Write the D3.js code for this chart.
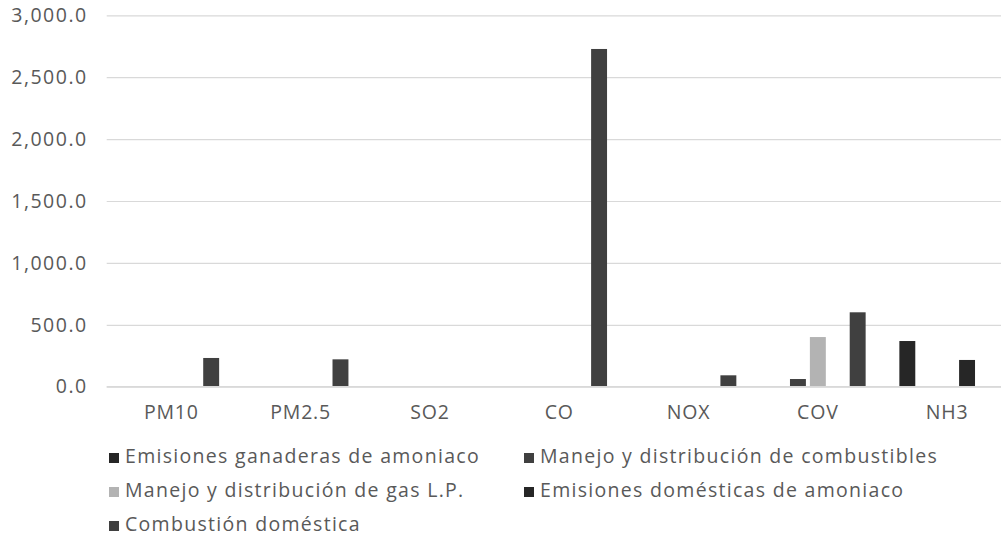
<!DOCTYPE html>
<html lang="es">
<head>
  <meta charset="UTF-8" />
  <title>Emisiones por contaminante</title>
  <script src="https://d3js.org/d3.v7.min.js"></script>
  <style>
    body { margin: 0; background: #fff; }
    svg { display: block; font-family: "Open Sans", sans-serif; }
    .tick text { fill: #595959; }
    .y-axis text { letter-spacing: 1.5px; }
    .x-axis text { letter-spacing: 0.8px; }
    .legend text { letter-spacing: 1.3px; }
  </style>
</head>
<body>
  <svg id="chart" width="1001" height="542"></svg>
  <script>
    // Datos
    const categories = ["PM10", "PM2.5", "SO2", "CO", "NOX", "COV", "NH3"];
    const seriesNames = [
      "Emisiones ganaderas de amoniaco",
      "Manejo y distribución de combustibles",
      "Manejo y distribución de gas L.P.",
      "Emisiones domésticas de amoniaco",
      "Combustión doméstica"
    ];
    const ganaderas    = [0, 0, 0, 0, 0, 0, 369];
    const combustibles = [0, 0, 0, 0, 0, 62, 0];
    const gasLP        = [0, 0, 0, 0, 0, 401, 0];
    const domesticas   = [0, 0, 0, 0, 0, 0, 216];
    const combustion   = [232, 221, 4, 2728, 92, 601, 0];
    const seriesValues = [ganaderas, combustibles, gasLP, domesticas, combustion];
    const colors = ["#262626", "#404040", "#b3b3b3", "#262626", "#404040"];
    const yTicks = [0, 500, 1000, 1500, 2000, 2500, 3000];

    const svg = d3.select("#chart");
    const plotLeft = 106.7, plotTop = 15.3, plotBottom = 386.7;
    const step = 129.3;
    const fs = 19.5;

    const x0 = d3.scaleBand()
      .domain(categories)
      .range([plotLeft, plotLeft + step * categories.length])
      .paddingInner(0.23)
      .paddingOuter(0.115);

    const x1 = d3.scaleBand()
      .domain(d3.range(seriesNames.length))
      .range([0, x0.bandwidth()])
      .paddingInner(0.2)
      .paddingOuter(0.1);

    const y = d3.scaleLinear().domain([0, 3000]).range([plotBottom, plotTop]);

    // Cuadrícula y etiquetas del eje Y
    const yAxis = svg.append("g")
      .attr("class", "y-axis")
      .attr("transform", `translate(${plotLeft},0)`)
      .call(d3.axisLeft(y)
        .tickValues(yTicks)
        .tickSize(-(1001 - plotLeft))
        .tickPadding(19)
        .tickFormat(d3.format(",.1f")));
    yAxis.select(".domain").remove();
    yAxis.selectAll(".tick line").attr("stroke", "#d9d9d9").attr("stroke-width", 1.2);
    yAxis.selectAll(".tick text").attr("font-size", fs);

    // Barras
    const groups = svg.append("g").selectAll("g")
      .data(seriesValues)
      .join("g")
      .attr("fill", (d, i) => colors[i]);

    groups.selectAll("rect")
      .data((vals, si) => vals.map((v, ci) => ({ si, ci, v })).filter(d => d.v > 0))
      .join("rect")
      .attr("x", d => x0(categories[d.ci]) + x1(d.si))
      .attr("y", d => y(d.v))
      .attr("width", x1.bandwidth())
      .attr("height", d => plotBottom - y(d.v));

    // Eje X
    const xAxis = svg.append("g")
      .attr("class", "x-axis")
      .attr("transform", `translate(0,${plotBottom})`)
      .call(d3.axisBottom(x0).tickSize(0).tickPadding(18.5));
    xAxis.select(".domain").attr("stroke", "#d9d9d9").attr("stroke-width", 1.5)
      .attr("d", `M${plotLeft},0H1001`);
    xAxis.selectAll(".tick text").attr("font-size", fs);
    svg.selectAll("g").attr("font-family", null);

    // Leyenda
    const legendPos = [[109, 463], [524, 463], [109, 497], [524, 497], [109, 531]];
    const legend = svg.append("g").attr("class", "legend").selectAll("g")
      .data(seriesNames)
      .join("g")
      .attr("transform", (d, i) => `translate(${legendPos[i][0]},${legendPos[i][1]})`);
    legend.append("rect")
      .attr("x", 0).attr("y", -10)
      .attr("width", 10).attr("height", 10)
      .attr("fill", (d, i) => colors[i]);
    legend.append("text")
      .attr("x", 16)
      .attr("fill", "#595959")
      .attr("font-size", fs)
      .text(d => d);
  </script>
</body>
</html>
